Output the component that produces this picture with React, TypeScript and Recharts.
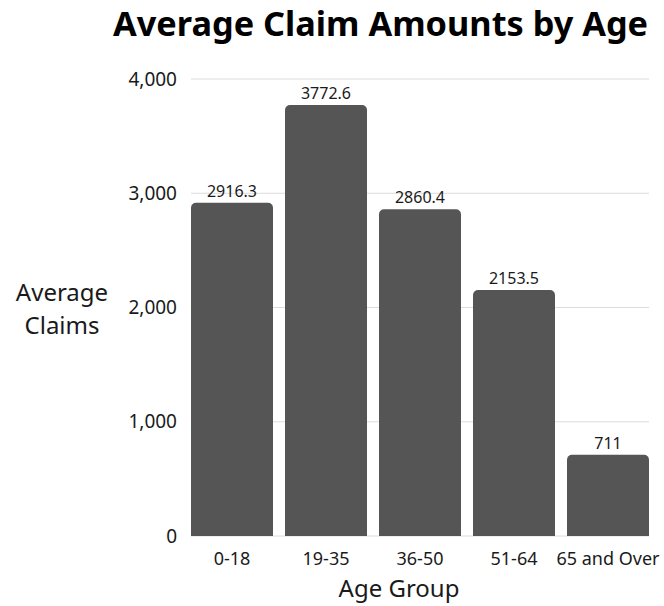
import React from "react";
import { Bar, BarChart, CartesianGrid, LabelList, XAxis, YAxis } from "recharts";

const AGE_GROUPS = ["0-18", "19-35", "36-50", "51-64", "65 and Over"];
const AVG_CLAIMS = [2916.3, 3772.6, 2860.4, 2153.5, 711];
const Y_TICKS = [0, 1000, 2000, 3000, 4000];

const data = AGE_GROUPS.map((group, i) => ({ group, claims: AVG_CLAIMS[i] }));

const FONT = "'Noto Sans', 'Open Sans', sans-serif";

function YTitle({ viewBox }: any) {
  const cy = viewBox.y + viewBox.height / 2;
  return (
    <text x={62} y={cy} textAnchor="middle" fontSize={24} fill="#1a1a1a" fontFamily={FONT}>
      <tspan x={62} dy={-7}>Average</tspan>
      <tspan x={62} dy={33}>Claims</tspan>
    </text>
  );
}

function XTitle({ viewBox }: any) {
  const cx = viewBox.x + viewBox.width / 2 - 21;
  return (
    <text x={cx} y={viewBox.y + 61} textAnchor="middle" fontSize={24} fill="#1a1a1a" fontFamily={FONT}>
      Age Group
    </text>
  );
}

export default function App() {
  return (
    <div style={{ position: "absolute", left: 0, top: 0, width: 664, height: 606, background: "#fff", overflow: "hidden" }}>
      <svg width={664} height={50} style={{ position: "absolute", left: 0, top: 0 }}>
        <text x={113} y={36} fontSize={34.3} fontWeight={700} fill="#000" fontFamily={FONT}>
          Average Claim Amounts by Age
        </text>
      </svg>
      <BarChart
        width={664}
        height={606}
        data={data}
        margin={{ top: 79, right: 15, bottom: 40, left: 0 }}
        barCategoryGap={6}
      >
        <CartesianGrid vertical={false} stroke="#dcdcdc" />
        <XAxis
          dataKey="group"
          axisLine={false}
          tickLine={false}
          tickSize={0}
          tickMargin={16}
          interval={0}
          padding={{ left: -6, right: -6 }}
          tick={{ fontSize: 18, fill: "#1a1a1a", fontFamily: FONT }}
          label={<XTitle />}
        />
        <YAxis
          width={191}
          domain={[0, 4000]}
          ticks={Y_TICKS}
          axisLine={false}
          tickLine={false}
          tickSize={0}
          tickMargin={14}
          tickFormatter={(v) => Number(v).toLocaleString("en-US")}
          tick={{ fontSize: 19, fill: "#1a1a1a", fontFamily: FONT }}
          label={<YTitle />}
        />
        <Bar dataKey="claims" fill="#555555" radius={[5, 5, 0, 0]} isAnimationActive={false}>
          <LabelList
            dataKey="claims"
            position="top"
            offset={6}
            style={{ fontSize: 16, fill: "#1a1a1a", fontFamily: FONT }}
          />
        </Bar>
      </BarChart>
    </div>
  );
}
